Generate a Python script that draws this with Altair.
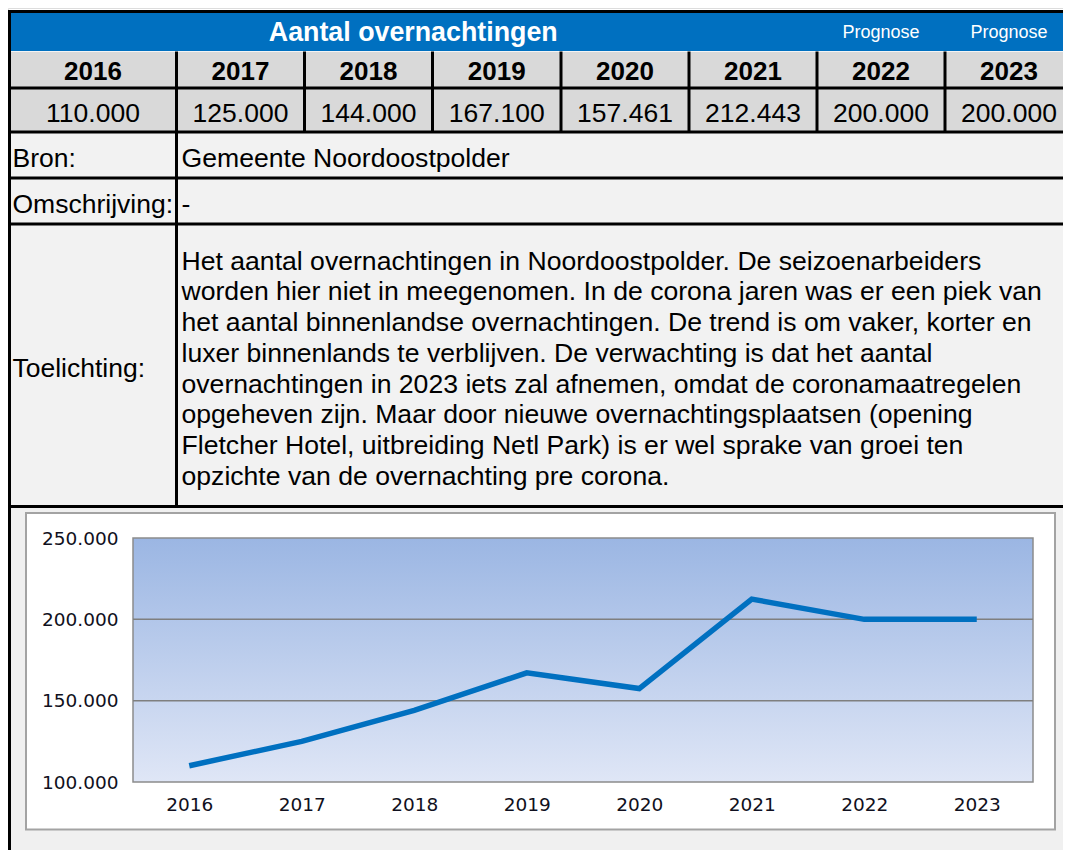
import altair as alt
import pandas as pd

# ---------------- data ----------------
years = ["2016", "2017", "2018", "2019", "2020", "2021", "2022", "2023"]
overnachtingen = [110000, 125000, 144000, 167100, 157461, 212443, 200000, 200000]
table_title = "Aantal overnachtingen"
prognose_years = ["2022", "2023"]
prognose_label = "Prognose"
info_labels = ["Bron:", "Omschrijving:", "Toelichting:"]
bron_text = "Gemeente Noordoostpolder"
omschrijving_text = "-"
toelichting_lines = [
    "Het aantal overnachtingen in Noordoostpolder. De seizoenarbeiders",
    "worden hier niet in meegenomen. In de corona jaren was er een piek van",
    "het aantal binnenlandse overnachtingen. De trend is om vaker, korter en",
    "luxer binnenlands te verblijven. De verwachting is dat het aantal",
    "overnachtingen in 2023 iets zal afnemen, omdat de coronamaatregelen",
    "opgeheven zijn. Maar door nieuwe overnachtingsplaatsen (opening",
    "Fletcher Hotel, uitbreiding Netl Park) is er wel sprake van groei ten",
    "opzichte van de overnachting pre corona.",
]
y_tick_values = [100000, 150000, 200000, 250000]
grid_values = [150000, 200000]

# ---------------- layout (scales) ----------------
W, H = 1055, 842
COL_EDGES = [1.5, 168.5, 296.5, 424.5, 553, 681, 809, 937, 1065]
ROW_EDGES = [3.5, 43.5, 80, 124, 170, 216, 498.5, 842]
PLOT_X = [125, 1025]
PLOT_Y = [774, 530]
LINE_H = 30.7

TABLE_FONT = "Liberation Sans"
CHART_FONT = "DejaVu Sans"


def col_scale():
    return alt.Scale(domain=list(range(len(COL_EDGES))), range=COL_EDGES, nice=False, zero=False)


def row_scale():
    return alt.Scale(domain=list(range(len(ROW_EDGES))), range=ROW_EDGES, nice=False, zero=False)


def X(field, **kw):
    return alt.X(field, type="quantitative", scale=col_scale(), axis=None, **kw)


def Y(field, **kw):
    return alt.Y(field, type="quantitative", scale=row_scale(), axis=None, **kw)


ncol = len(years)

# backgrounds of table bands
bands = pd.DataFrame({
    "part": ["header", "years", "values", "info", "chart"],
    "r0": [0, 1, 2, 3, 6],
    "r1": [1, 2, 3, 6, 7],
})
bands["c0"] = 0
bands["c1"] = ncol
band_bg = alt.Chart(bands).mark_rect().encode(
    x=X("c0"), x2="c1", y=Y("r0"), y2="r1",
    fill=alt.Fill("part:N", legend=None, scale=alt.Scale(
        domain=["header", "years", "values", "info", "chart"],
        range=["#0070c0", "#d9d9d9", "#d9d9d9", "#f2f2f2", "#f0f0f0"])),
)

# light separator under blue header
sep = alt.Chart(pd.DataFrame({"r": [1], "c0": [0], "c1": [ncol]})).mark_rule(
    color="#f4f4f4", strokeWidth=1
).encode(x=X("c0"), x2="c1", y=Y("r"))

# grid lines of the table
h_rows = [0, 2, 3, 4, 5, 6]
hr = pd.DataFrame({"r": h_rows, "c0": [0] * len(h_rows), "c1": [ncol] * len(h_rows)})
h_rules = alt.Chart(hr).mark_rule(color="black", strokeWidth=3, strokeCap="square").encode(
    x=X("c0"), x2="c1", y=Y("r"))

v_c = list(range(1, ncol)) + [1, 0]
v_r0 = [1] * (ncol - 1) + [3, 0]
v_r1 = [3] * (ncol - 1) + [6, 7]
vr = pd.DataFrame({"c": v_c, "r0": v_r0, "r1": v_r1})
v_rules = alt.Chart(vr).mark_rule(color="black", strokeWidth=3).encode(
    x=X("c"), y=Y("r0"), y2="r1")

# texts
year_df = pd.DataFrame({"year": years, "col": list(range(ncol))})
year_text = alt.Chart(year_df).transform_calculate(cx="datum.col + 0.5", cy="1.5").mark_text(
    font=TABLE_FONT, fontSize=26, fontWeight="bold", color="black", baseline="middle", dy=2
).encode(x=X("cx"), y=Y("cy"), text="year:N")

val_df = pd.DataFrame({
    "label": [f"{v:,}".replace(",", ".") for v in overnachtingen],
    "col": list(range(ncol)),
})
val_text = alt.Chart(val_df).transform_calculate(cx="datum.col + 0.5", cy="2.5").mark_text(
    font=TABLE_FONT, fontSize=26.5, color="black", baseline="middle", dy=4
).encode(x=X("cx"), y=Y("cy"), text="label:N")

prog_df = pd.DataFrame({"col": [years.index(y) for y in prognose_years],
                        "label": [prognose_label] * len(prognose_years)})
prog_text = alt.Chart(prog_df).transform_calculate(cx="datum.col + 0.5", cy="0.5").mark_text(
    font=TABLE_FONT, fontSize=18, color="white", baseline="middle", dy=1
).encode(x=X("cx"), y=Y("cy"), text="label:N")

span_end = years.index("2021") + 1
title_df = pd.DataFrame({"label": [table_title], "s": [0], "e": [span_end]})
title_text = alt.Chart(title_df).transform_calculate(cx="(datum.s + datum.e) / 2", cy="0.5").mark_text(
    font=TABLE_FONT, fontSize=26.8, fontWeight="bold", color="white", baseline="middle", dy=1
).encode(
    x=alt.X("cx:Q", axis=None, scale=alt.Scale(domain=[0, span_end],
                                               range=[COL_EDGES[0], COL_EDGES[span_end]],
                                               nice=False, zero=False)),
    y=Y("cy"), text="label:N")

info_df = pd.DataFrame({"label": info_labels, "row": [3, 4, 5]})
info_text = alt.Chart(info_df).transform_calculate(cy="datum.row + 0.5", cx="0").mark_text(
    font=TABLE_FONT, fontSize=26.5, color="black", baseline="middle", align="left", dx=3, dy=4
).encode(x=X("cx"), y=Y("cy"), text="label:N")

short_df = pd.DataFrame({"label": [bron_text, omschrijving_text], "row": [3, 4]})
short_text = alt.Chart(short_df).transform_calculate(cy="datum.row + 0.5", cx="1").mark_text(
    font=TABLE_FONT, fontSize=26.6, color="black", baseline="middle", align="left", dx=5, dy=4
).encode(x=X("cx"), y=Y("cy"), text="label:N")

long_df = pd.DataFrame({"label": ["\n".join(toelichting_lines)], "row": [5]})
long_text = alt.Chart(long_df).transform_calculate(cy="datum.row + 0.5", cx="1").mark_text(
    font=TABLE_FONT, fontSize=26.6, color="black", baseline="middle", align="left", dx=5,
    dy=4 - (len(toelichting_lines) - 1) * LINE_H / 2,
    lineBreak="\n", lineHeight=LINE_H
).encode(x=X("cx"), y=Y("cy"), text="label:N")

# ---------------- chart block ----------------
white_box = alt.Chart(pd.DataFrame({"k": [0]})).mark_rect(
    fill="white", stroke="#a3a3a3", strokeWidth=2
).encode(x=alt.value(18), x2=alt.value(1047), y=alt.value(505), y2=alt.value(821.5))

plot_bg = alt.Chart(pd.DataFrame({"k": [0]})).mark_rect(
    fill=alt.Gradient(gradient="linear", x1=0, y1=0, x2=0, y2=1,
                      stops=[alt.GradientStop(offset=0, color="#9bb6e3"),
                             alt.GradientStop(offset=1, color="#dfe6f6")]),
    stroke="#8c8c8c", strokeWidth=1.5
).encode(x=alt.value(PLOT_X[0]), x2=alt.value(PLOT_X[1]), y=alt.value(PLOT_Y[1]), y2=alt.value(PLOT_Y[0]))


def vscale():
    return alt.Scale(domain=[y_tick_values[0], y_tick_values[-1]], range=PLOT_Y, nice=False, zero=False)


grid = alt.Chart(pd.DataFrame({"v": grid_values})).mark_rule(color="#7f7f7f", strokeWidth=1.5).encode(
    y=alt.Y("v:Q", scale=vscale(), axis=None),
    x=alt.value(PLOT_X[0]), x2=alt.value(PLOT_X[1]))

line_df = pd.DataFrame({"year": years, "value": overnachtingen})
line = alt.Chart(line_df).mark_line(color="#0070c0", strokeWidth=5.5, strokeCap="butt", strokeJoin="miter").encode(
    x=alt.X("year:N", sort=years,
            scale=alt.Scale(type="point", domain=years, range=PLOT_X, padding=0.5),
            axis=alt.Axis(orient="bottom", offset=-(H - PLOT_Y[0]), title=None, domain=False, ticks=False,
                          labelAngle=0, labelFont=CHART_FONT, labelFontSize=18.5, labelColor="#101020",
                          labelPadding=13, grid=False, zindex=1)),
    y=alt.Y("value:Q", scale=vscale(),
            axis=alt.Axis(orient="left", offset=-PLOT_X[0], title=None, domain=False, ticks=False,
                          values=y_tick_values, labelFont=CHART_FONT, labelFontSize=18.5,
                          labelColor="#101020", labelPadding=15, grid=False, zindex=1,
                          labelExpr="replace(format(datum.value, ',.0f'), ',', '.')")),
)

chart = alt.layer(
    band_bg, sep, white_box, plot_bg, grid, line,
    h_rules, v_rules, year_text, val_text, prog_text, title_text, info_text, short_text, long_text,
).resolve_scale(x="independent", y="independent", fill="independent").properties(
    width=W, height=H, autosize=alt.AutoSizeParams(type="none"), padding=0,
).configure_view(stroke=None).configure(background="white")

chart.save("out.html", embed_options={"renderer": "svg", "actions": False})
